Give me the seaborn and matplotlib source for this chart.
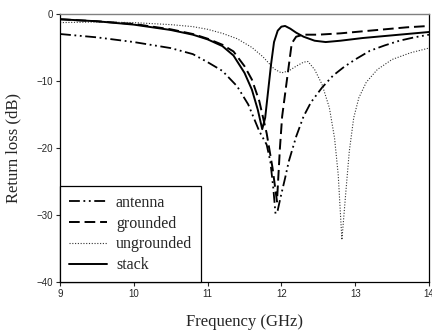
import matplotlib
matplotlib.use("Agg")
import matplotlib.pyplot as plt
import pandas as pd
import seaborn as sns

# Data (frequency in GHz, return loss in dB)
antenna_x = [9.0, 9.5, 10.0, 10.5, 10.8, 11.0, 11.2, 11.4, 11.55, 11.7, 11.8, 11.85,
             11.89, 11.92, 11.95, 11.99, 12.05, 12.1, 12.2, 12.3, 12.4, 12.55, 12.7,
             12.85, 13.0, 13.2, 13.4, 13.6, 13.8, 14.0]
antenna_y = [-3.0, -3.5, -4.2, -5.1, -6.0, -7.2, -8.5, -10.8, -13.5, -17.5, -19.5, -22.0,
             -26.0, -29.8, -29.3, -27.3, -24.5, -22.0, -18.3, -15.3, -13.2, -11.0, -9.2,
             -7.9, -6.8, -5.5, -4.7, -4.0, -3.5, -3.1]

grounded_x = [9.0, 9.5, 10.0, 10.5, 10.8, 11.0, 11.2, 11.35, 11.5, 11.6, 11.7, 11.8,
              11.88, 11.94, 11.98, 12.01, 12.08, 12.14, 12.2, 12.3, 12.5, 12.8, 13.1,
              13.4, 13.7, 14.0]
grounded_y = [-0.8, -1.1, -1.5, -2.3, -3.0, -3.7, -4.6, -5.6, -7.8, -9.8, -13.0, -17.8,
              -23.0, -28.0, -20.0, -15.3, -9.4, -4.4, -3.4, -3.1, -3.1, -2.9, -2.6,
              -2.3, -2.0, -1.8]

ungrounded_x = [9.0, 9.5, 10.0, 10.5, 10.8, 11.0, 11.2, 11.4, 11.6, 11.75, 11.9, 12.0,
                12.1, 12.2, 12.3, 12.36, 12.45, 12.55, 12.65, 12.72, 12.77, 12.82, 12.87,
                12.92, 12.98, 13.05, 13.15, 13.3, 13.5, 13.75, 14.0]
ungrounded_y = [-1.3, -1.2, -1.3, -1.6, -1.9, -2.3, -2.9, -3.7, -5.0, -6.4, -8.2, -8.8,
                -8.5, -7.8, -7.2, -7.1, -8.3, -10.5, -14.0, -18.5, -24.0, -33.7, -27.0,
                -20.5, -15.5, -12.5, -10.2, -8.3, -6.8, -5.8, -5.1]

stack_x = [9.0, 9.5, 10.0, 10.5, 10.8, 11.0, 11.2, 11.35, 11.5, 11.6, 11.68, 11.74,
           11.78, 11.82, 11.86, 11.9, 11.95, 12.0, 12.05, 12.12, 12.2, 12.3, 12.45,
           12.6, 12.8, 13.1, 13.4, 13.7, 14.0]
stack_y = [-0.8, -1.1, -1.6, -2.4, -3.1, -3.8, -4.8, -6.2, -8.8, -11.3, -14.3, -17.2,
           -15.5, -11.5, -7.5, -4.2, -2.5, -1.9, -1.8, -2.2, -2.8, -3.4, -4.0,
           -4.2, -4.0, -3.6, -3.3, -3.0, -2.7]

x_ticks = [9, 10, 11, 12, 13, 14]
y_ticks = [-40, -30, -20, -10, 0]

series = [
    ("antenna", antenna_x, antenna_y, dict(linestyle=(0, (6, 2, 1, 2, 1, 2)), linewidth=1.3, color="black")),
    ("grounded", grounded_x, grounded_y, dict(linestyle=(0, (5.5, 2.5)), linewidth=1.4, color="black")),
    ("ungrounded", ungrounded_x, ungrounded_y, dict(linestyle=(0, (1, 1.5)), linewidth=0.8, color="#333333")),
    ("stack", stack_x, stack_y, dict(linestyle="-", linewidth=1.4, color="black")),
]

sns.set_style("ticks")
plt.rcParams["font.family"] = ["Liberation Sans", "DejaVu Sans"]

fig = plt.figure(figsize=(4.32, 3.31), dpi=100)
ax = fig.add_axes([0.139, 0.148, 0.854, 0.810])

for name, xs, ys, style in series:
    df = pd.DataFrame({"freq": xs, "loss": ys})
    sns.lineplot(data=df, x="freq", y="loss", ax=ax, label=name, estimator=None, **style)

ax.set_xlim(9, 14)
ax.set_ylim(-40, 0)
ax.set_xticks(x_ticks)
ax.set_yticks(y_ticks)
ax.tick_params(axis="both", labelsize=7, length=3, width=0.8, direction="out", pad=2)

for side in ["left", "bottom", "right"]:
    ax.spines[side].set_color("black")
    ax.spines[side].set_linewidth(0.9)
ax.spines["top"].set_color("#808080")
ax.spines["top"].set_linewidth(1.0)

serif = ["Liberation Serif", "DejaVu Serif"]
ax.set_xlabel("Frequency (GHz)", family=serif, fontsize=12, labelpad=11)
ax.set_ylabel("Return loss (dB)", family=serif, fontsize=12, labelpad=11)

leg = ax.legend(loc="lower left", bbox_to_anchor=(0, 0), borderaxespad=0,
                prop={"family": serif, "size": 11.5}, handlelength=2.4,
                handletextpad=0.55, labelspacing=0.3, borderpad=0.55,
                fancybox=False, framealpha=1)
leg.get_frame().set_edgecolor("black")
leg.get_frame().set_linewidth(0.9)

fig.savefig("out.png", dpi=100)
